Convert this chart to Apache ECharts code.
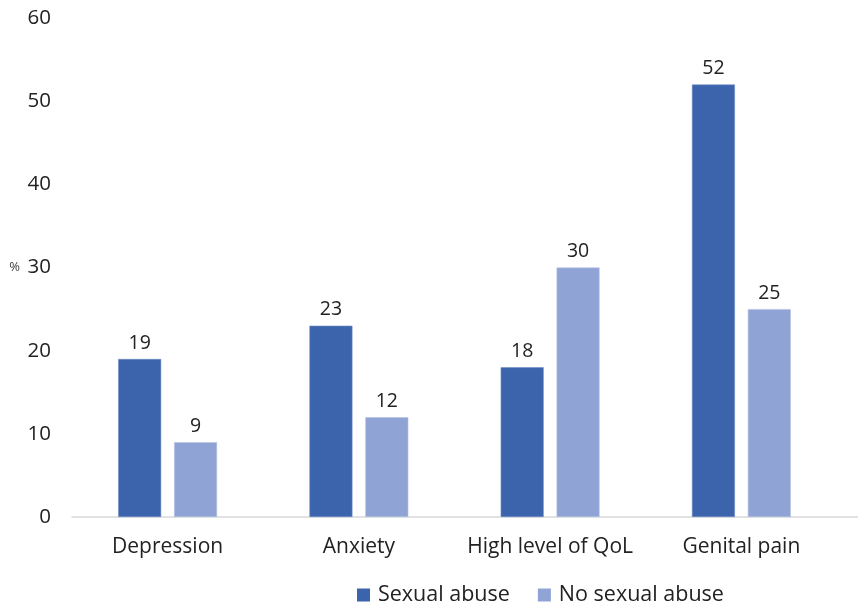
<!DOCTYPE html>
<html>
<head>
<meta charset="utf-8">
<script src="https://cdn.jsdelivr.net/npm/echarts@6/dist/echarts.min.js"></script>
<style>
  html, body { margin: 0; padding: 0; background: #ffffff; }
  #chart { width: 859px; height: 606px; }
</style>
</head>
<body>
<div id="chart"></div>
<script>
// Outcomes compared between women with and without a history of sexual abuse (%)
const categories = ['Depression', 'Anxiety', 'High level of QoL', 'Genital pain'];
const sexualAbuse = [19, 23, 18, 52];
const noSexualAbuse = [9, 12, 30, 25];
const seriesNames = ['Sexual abuse', 'No sexual abuse'];
const yTicks = { min: 0, max: 60, interval: 10 };

const FONT = '"Open Sans", "Noto Sans", sans-serif';
const TEXT = '#222222';
const DARK = '#3B64AD';
const LIGHT = '#8FA3D5';
const AXIS = '#D9D9D9';

const W = 859, H = 606;
const GRID = { left: 72, right: 22, top: 18, bottom: 89 };

const chart = echarts.init(document.getElementById('chart'), null, { renderer: 'canvas' });

const labelStyle = {
  show: true,
  position: 'top',
  distance: 6,
  color: TEXT,
  fontFamily: FONT,
  fontSize: 19.5
};

chart.setOption({
  animation: false,
  backgroundColor: '#ffffff',
  textStyle: { fontFamily: FONT },
  grid: Object.assign({ containLabel: false }, GRID),
  legend: {
    data: seriesNames,
    top: 579,
    left: 352,
    itemWidth: 13,
    itemHeight: 13,
    itemGap: 28,
    icon: 'rect',
    itemStyle: { borderWidth: 0 },
    textStyle: { color: TEXT, fontFamily: FONT, fontSize: 21.5, padding: [0, 0, 0, 3] }
  },
  // baseline continues to the right edge of the canvas
  graphic: [{
    type: 'line',
    silent: true,
    shape: { x1: W - GRID.right, y1: H - GRID.bottom, x2: W - 1, y2: H - GRID.bottom },
    style: { stroke: AXIS, lineWidth: 1.5 }
  }],
  xAxis: {
    type: 'category',
    data: categories,
    axisLine: { show: true, lineStyle: { color: AXIS, width: 1.5 } },
    axisTick: { show: false },
    axisLabel: { interval: 0, color: TEXT, fontFamily: FONT, fontSize: 21, margin: 20 }
  },
  yAxis: {
    type: 'value',
    min: yTicks.min,
    max: yTicks.max,
    interval: yTicks.interval,
    name: '%',
    nameLocation: 'middle',
    nameRotate: 0,
    nameGap: 52,
    nameTextStyle: { color: '#404040', fontFamily: FONT, fontSize: 13, padding: [18, 0, 0, 0] },
    axisLine: { show: false },
    axisTick: { show: false },
    splitLine: { show: false },
    axisLabel: { color: TEXT, fontFamily: FONT, fontSize: 20.5, margin: 21 }
  },
  series: [
    {
      name: seriesNames[0],
      type: 'bar',
      data: sexualAbuse,
      barWidth: 43,
      barGap: '30%',
      itemStyle: { color: DARK, borderColor: '#6f8cc4', borderWidth: 0.6 },
      label: labelStyle
    },
    {
      name: seriesNames[1],
      type: 'bar',
      data: noSexualAbuse,
      barWidth: 43,
      barGap: '30%',
      itemStyle: { color: LIGHT, borderColor: '#b5c2e4', borderWidth: 0.6 },
      label: labelStyle
    }
  ]
});
</script>
</body>
</html>
